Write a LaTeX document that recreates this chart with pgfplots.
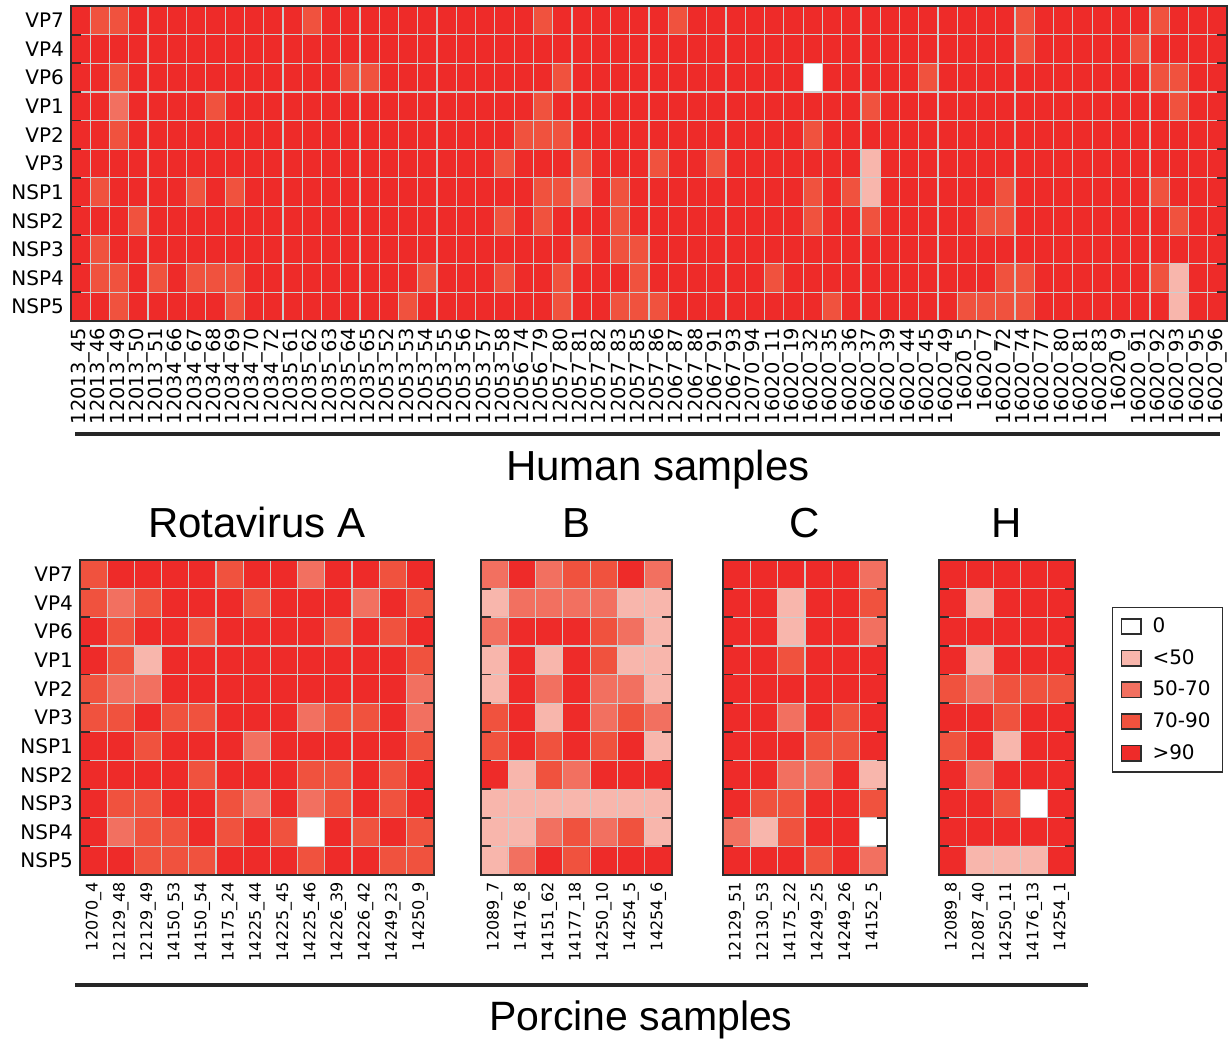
\documentclass[border=0pt]{standalone}
\usepackage{fontspec}
\setmainfont{DejaVu Sans}
\newfontfamily\helv{Liberation Sans}
\usepackage{pgfplots}
\usepackage{pgfplotstable}
\pgfplotsset{compat=1.18}

\definecolor{gridgray}{RGB}{205,205,205}
\definecolor{framegray}{RGB}{45,45,45}
\definecolor{c1}{RGB}{248,182,172}
\definecolor{c2}{RGB}{242,112,96}
\definecolor{c3}{RGB}{240,82,62}
\definecolor{c4}{RGB}{238,43,41}

% 0 = 0, 1 = <50, 2 = 50-70, 3 = 70-90, 4 = >90 ; one line per segment (VP7 ... NSP5)
\pgfplotstableread[row sep=\\]{
c\\
4\\3\\3\\4\\4\\4\\4\\4\\4\\4\\ 4\\4\\3\\4\\4\\4\\4\\4\\4\\4\\ 4\\4\\4\\4\\3\\4\\4\\4\\4\\4\\ 4\\3\\4\\4\\4\\4\\4\\4\\4\\4\\ 4\\4\\4\\4\\4\\4\\4\\4\\4\\3\\ 4\\4\\4\\4\\4\\4\\3\\4\\4\\4\\
4\\4\\4\\4\\4\\4\\4\\4\\4\\4\\ 4\\4\\4\\4\\4\\4\\4\\4\\4\\4\\ 4\\4\\4\\4\\4\\4\\4\\4\\4\\4\\ 4\\4\\4\\4\\4\\4\\4\\4\\4\\4\\ 4\\4\\4\\4\\4\\4\\4\\4\\4\\3\\ 4\\4\\4\\4\\4\\3\\4\\4\\4\\4\\
4\\4\\3\\4\\4\\4\\4\\4\\4\\4\\ 4\\4\\4\\4\\3\\3\\4\\4\\4\\4\\ 4\\4\\4\\4\\4\\3\\4\\4\\4\\4\\ 4\\4\\4\\4\\4\\4\\4\\4\\0\\4\\ 4\\4\\4\\4\\3\\4\\4\\4\\4\\4\\ 4\\4\\4\\4\\4\\4\\3\\3\\4\\4\\
4\\4\\2\\4\\4\\4\\4\\3\\4\\4\\ 4\\4\\4\\4\\4\\4\\4\\4\\4\\4\\ 4\\4\\4\\4\\3\\4\\4\\4\\4\\4\\ 4\\4\\4\\4\\4\\4\\4\\4\\4\\4\\ 4\\3\\4\\4\\4\\4\\4\\4\\4\\4\\ 4\\4\\4\\4\\4\\4\\4\\3\\4\\4\\
4\\4\\3\\4\\4\\4\\4\\4\\4\\4\\ 4\\4\\4\\4\\4\\4\\4\\4\\4\\4\\ 4\\4\\4\\3\\3\\3\\4\\4\\4\\4\\ 4\\4\\4\\4\\4\\4\\4\\4\\3\\4\\ 4\\4\\4\\4\\4\\4\\4\\4\\4\\4\\ 4\\4\\4\\4\\4\\4\\4\\4\\4\\4\\
4\\4\\4\\4\\4\\4\\4\\4\\4\\4\\ 4\\4\\4\\4\\4\\4\\4\\4\\4\\4\\ 4\\4\\3\\4\\4\\4\\3\\4\\4\\4\\ 3\\4\\4\\3\\4\\4\\4\\4\\4\\4\\ 4\\1\\4\\4\\4\\4\\4\\4\\4\\4\\ 4\\4\\4\\4\\4\\4\\4\\4\\4\\4\\
4\\3\\4\\4\\4\\4\\3\\4\\3\\4\\ 4\\4\\4\\4\\4\\4\\4\\4\\4\\4\\ 4\\4\\4\\4\\3\\3\\2\\4\\3\\4\\ 4\\4\\4\\4\\4\\4\\4\\4\\3\\4\\ 3\\1\\4\\4\\4\\4\\4\\4\\3\\4\\ 4\\4\\4\\4\\4\\4\\3\\4\\4\\4\\
4\\4\\4\\3\\4\\4\\4\\4\\4\\4\\ 4\\4\\4\\4\\4\\4\\4\\4\\4\\4\\ 4\\4\\3\\4\\3\\4\\4\\4\\3\\4\\ 4\\4\\4\\4\\4\\4\\4\\4\\3\\4\\ 4\\3\\4\\4\\4\\4\\4\\3\\3\\4\\ 4\\4\\4\\4\\4\\4\\4\\3\\4\\4\\
4\\3\\4\\4\\4\\4\\4\\4\\4\\4\\ 4\\4\\4\\4\\4\\4\\4\\4\\4\\4\\ 4\\4\\4\\4\\4\\4\\3\\4\\3\\3\\ 4\\4\\4\\4\\4\\4\\4\\4\\4\\4\\ 4\\4\\4\\4\\4\\4\\4\\4\\4\\4\\ 4\\4\\4\\4\\4\\4\\4\\4\\4\\4\\
4\\3\\3\\4\\3\\4\\3\\3\\3\\4\\ 4\\4\\4\\4\\4\\4\\4\\4\\3\\4\\ 4\\4\\3\\4\\4\\3\\4\\4\\4\\3\\ 4\\4\\4\\4\\4\\4\\3\\4\\4\\4\\ 4\\4\\4\\4\\4\\4\\4\\4\\3\\3\\ 4\\4\\4\\4\\4\\4\\3\\1\\4\\4\\
4\\4\\3\\4\\4\\4\\4\\4\\3\\4\\ 4\\4\\4\\4\\4\\4\\4\\3\\4\\4\\ 4\\4\\4\\4\\4\\3\\4\\4\\3\\3\\ 3\\4\\4\\4\\4\\4\\4\\4\\4\\3\\ 4\\4\\4\\4\\4\\4\\3\\3\\3\\3\\ 4\\4\\4\\4\\4\\4\\4\\1\\4\\4\\
}\human

\pgfplotstableread[row sep=\\]{
c\\
3\\4\\4\\4\\4\\3\\4\\4\\2\\4\\4\\3\\4\\
3\\2\\3\\4\\4\\4\\3\\4\\4\\4\\2\\4\\3\\
4\\3\\4\\4\\3\\4\\4\\4\\4\\3\\4\\3\\4\\
4\\3\\1\\4\\4\\4\\4\\4\\4\\4\\4\\4\\3\\
3\\2\\2\\4\\4\\4\\4\\4\\4\\4\\4\\4\\2\\
3\\3\\4\\3\\3\\4\\4\\4\\2\\3\\3\\4\\2\\
4\\4\\3\\4\\4\\4\\2\\4\\4\\4\\4\\4\\3\\
4\\4\\4\\4\\3\\4\\4\\4\\3\\3\\4\\3\\4\\
4\\3\\3\\4\\4\\3\\2\\4\\2\\3\\4\\3\\4\\
4\\2\\3\\3\\4\\3\\4\\3\\0\\4\\3\\4\\3\\
4\\4\\3\\3\\3\\4\\4\\4\\3\\4\\4\\3\\3\\
}\rotaA

\pgfplotstableread[row sep=\\]{
c\\
2\\4\\2\\3\\3\\4\\2\\
1\\2\\2\\2\\2\\1\\1\\
2\\4\\4\\4\\3\\2\\1\\
1\\4\\1\\4\\3\\1\\1\\
1\\4\\2\\4\\2\\2\\1\\
3\\4\\1\\4\\2\\3\\2\\
3\\4\\3\\4\\3\\4\\1\\
4\\1\\3\\2\\4\\4\\4\\
1\\1\\1\\1\\1\\1\\1\\
1\\1\\2\\3\\2\\3\\1\\
1\\2\\4\\3\\4\\4\\4\\
}\rotaB

\pgfplotstableread[row sep=\\]{
c\\
4\\4\\4\\4\\4\\2\\
4\\4\\1\\4\\4\\3\\
4\\4\\1\\4\\4\\2\\
4\\4\\3\\4\\4\\4\\
4\\4\\4\\4\\4\\4\\
4\\4\\2\\4\\3\\4\\
4\\4\\4\\3\\3\\4\\
4\\4\\2\\2\\4\\1\\
4\\3\\3\\4\\4\\3\\
2\\1\\3\\4\\4\\0\\
4\\4\\4\\3\\4\\2\\
}\rotaC

\pgfplotstableread[row sep=\\]{
c\\
4\\4\\4\\4\\4\\
4\\1\\4\\4\\4\\
4\\4\\4\\4\\4\\
4\\1\\4\\4\\4\\
3\\2\\3\\3\\3\\
4\\4\\3\\4\\4\\
3\\4\\1\\4\\4\\
4\\2\\4\\4\\4\\
4\\4\\3\\0\\4\\
4\\4\\4\\4\\4\\
4\\1\\1\\1\\4\\
}\rotaH

\pgfplotsset{
  heat/.style={
    scale only axis, axis on top, enlargelimits=false,
    height=157.5pt,
    y dir=reverse, ymin=-0.5, ymax=10.5,
    ytick={0,...,10},
    yticklabels={VP7,VP4,VP6,VP1,VP2,VP3,NSP1,NSP2,NSP3,NSP4,NSP5},
    minor ytick={0.5,1.5,...,9.5},
    xminorgrids, yminorgrids,
    minor grid style={gridgray, line width=0.6pt},
    major tick length=0pt, minor tick length=5pt,
    tick style={framegray, line width=0.9pt},
    minor x tick style={draw=none},
    axis line style={framegray, line width=1pt},
    tick label style={font=\fontsize{10}{12}\selectfont},
    xticklabel style={rotate=90, anchor=east},
    colormap={hm}{rgb255=(255,255,255) rgb255=(248,182,172) rgb255=(242,112,96) rgb255=(240,82,62) rgb255=(238,43,41)},
    colormap access=direct,
    title style={font=\helv\fontsize{21}{25}\selectfont, at={(0.5,1)}, anchor=base, yshift=5.5pt},
  },
  porc/.style={heat, at={(#1,-280pt)}, anchor=north west,
    xticklabel style={font=\fontsize{8}{10}\selectfont}},
  legsq/.style={legend image code/.code={\draw[framegray, line width=0.8pt, fill=#1] (0pt,-3.8pt) rectangle (9.6pt,3.8pt);}},
}

\begin{document}
\begin{tikzpicture}
\path[use as bounding box] (0pt,0pt) rectangle (616pt,-519.5pt);

% human samples
\begin{axis}[heat, at={(35.5pt,-3pt)}, anchor=north west, width=578pt,
  xticklabel style={font=\fontsize{9.7}{11}\selectfont},
  xmin=-0.5, xmax=59.5, xtick={0,...,59}, minor xtick={0.5,1.5,...,58.5},
  xticklabels={12013\_45,12013\_46,12013\_49,12013\_50,12013\_51,12034\_66,12034\_67,12034\_68,12034\_69,12034\_70,
    12034\_72,12035\_61,12035\_62,12035\_63,12035\_64,12035\_65,12053\_52,12053\_53,12053\_54,12053\_55,
    12053\_56,12053\_57,12053\_58,12056\_74,12056\_79,12057\_80,12057\_81,12057\_82,12057\_83,12057\_85,
    12057\_86,12067\_87,12067\_88,12067\_91,12067\_93,12070\_94,16020\_11,16020\_19,16020\_32,16020\_35,
    16020\_36,16020\_37,16020\_39,16020\_44,16020\_45,16020\_49,16020\_5,16020\_7,16020\_72,16020\_74,
    16020\_77,16020\_80,16020\_81,16020\_83,16020\_9,16020\_91,16020\_92,16020\_93,16020\_95,16020\_96}]
\addplot[matrix plot*, mesh/cols=60, point meta=explicit]
  table[x index=0, y index=0, x expr={mod(\coordindex,60)}, y expr={floor((\coordindex+0.5)/60)}, meta=c] \human;
\end{axis}

% porcine samples
\begin{axis}[porc=40pt, width=176.8pt,
  xmin=-0.5, xmax=12.5, xtick={0,...,12}, minor xtick={0.5,1.5,...,11.5},
  xticklabels={12070\_4,12129\_48,12129\_49,14150\_53,14150\_54,14175\_24,14225\_44,14225\_45,14225\_46,14226\_39,14226\_42,14249\_23,14250\_9},
  title={Rotavirus A}]
\addplot[matrix plot*, mesh/cols=13, point meta=explicit]
  table[x index=0, y index=0, x expr={mod(\coordindex,13)}, y expr={floor((\coordindex+0.5)/13)}, meta=c] \rotaA;
\end{axis}

\begin{axis}[porc=240.5pt, width=95.5pt,
  xmin=-0.5, xmax=6.5, xtick={0,...,6}, minor xtick={0.5,1.5,...,5.5},
  yticklabels={},
  xticklabels={12089\_7,14176\_8,14151\_62,14177\_18,14250\_10,14254\_5,14254\_6},
  title={B}]
\addplot[matrix plot*, mesh/cols=7, point meta=explicit]
  table[x index=0, y index=0, x expr={mod(\coordindex,7)}, y expr={floor((\coordindex+0.5)/7)}, meta=c] \rotaB;
\end{axis}

\begin{axis}[porc=361.5pt, width=82pt,
  xmin=-0.5, xmax=5.5, xtick={0,...,5}, minor xtick={0.5,1.5,...,4.5},
  yticklabels={},
  xticklabels={12129\_51,12130\_53,14175\_22,14249\_25,14249\_26,14152\_5},
  title={C}]
\addplot[matrix plot*, mesh/cols=6, point meta=explicit]
  table[x index=0, y index=0, x expr={mod(\coordindex,6)}, y expr={floor((\coordindex+0.5)/6)}, meta=c] \rotaC;
\end{axis}

\begin{axis}[porc=469.5pt, width=68pt,
  xmin=-0.5, xmax=4.5, xtick={0,...,4}, minor xtick={0.5,1.5,...,3.5},
  yticklabels={},
  xticklabels={12089\_8,12087\_40,14250\_11,14176\_13,14254\_1},
  title={H},
  legend cell align=left,
  legend style={at={(axis description cs:1.272,0.851)}, anchor=north west,
    draw=framegray, line width=0.7pt, font=\fontsize{10}{12}\selectfont,
    row sep=2.9pt, inner xsep=4pt, inner ysep=3pt,
    /tikz/every odd column/.append style={column sep=3.5pt}}]
\addplot[matrix plot*, mesh/cols=5, point meta=explicit, forget plot]
  table[x index=0, y index=0, x expr={mod(\coordindex,5)}, y expr={floor((\coordindex+0.5)/5)}, meta=c] \rotaH;
\addlegendimage{legsq=white}
\addlegendimage{legsq=c1}
\addlegendimage{legsq=c2}
\addlegendimage{legsq=c3}
\addlegendimage{legsq=c4}
\legend{0,<50,50-70,70-90,>90}
\end{axis}

\draw[line width=2.1pt, black!85] (37.5pt,-217pt) -- (610pt,-217pt);
\node[font=\helv\fontsize{21}{25}\selectfont, anchor=base] at (329pt,-240pt) {Human samples};
\draw[line width=2.1pt, black!85] (37.5pt,-492.5pt) -- (544pt,-492.5pt);
\node[font=\helv\fontsize{20.5}{24}\selectfont, anchor=base] at (320.5pt,-515pt) {Porcine samples};
\end{tikzpicture}
\end{document}
